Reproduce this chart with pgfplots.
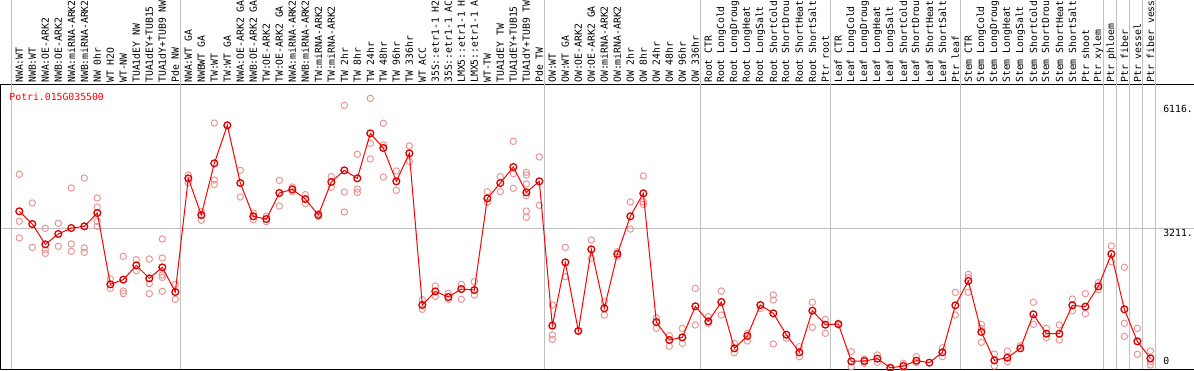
\documentclass[border=0pt]{standalone}
\usepackage{fontspec}
\setmainfont{DejaVu Sans Mono}
\usepackage{pgfplots}
\pgfplotsset{compat=1.18}
\usepackage{pgfplotstable}
\definecolor{sepc}{RGB}{192,192,192}
\definecolor{repc}{RGB}{232,150,150}
\definecolor{meanc}{RGB}{215,0,0}

\pgfplotstableread{
x y
1 3602
2 3310
3 2843
4 3081
5 3218
6 3257
7 3563
8 1923
9 2031
10 2360
11 2061
12 2314
13 1747
14 4360
15 3517
16 4705
17 5579
18 4253
19 3487
20 3425
21 4023
22 4107
23 3885
24 3517
25 4276
26 4544
27 4360
28 5395
29 5058
30 4291
31 4935
32 1448
33 1762
34 1632
35 1816
36 1793
37 3900
38 4253
39 4621
40 4038
41 4291
42 973
43 2429
44 851
45 2728
46 1372
47 2621
48 3487
49 4015
50 1057
51 644
52 705
53 1418
54 1073
55 1517
56 452
57 736
58 1448
59 1257
60 766
61 360
62 1318
63 996
64 1012
65 153
66 161
67 215
68 5
69 46
70 169
71 123
72 360
73 1441
74 2000
75 828
76 176
77 238
78 452
79 1234
80 789
81 789
82 1441
83 1410
84 1877
85 2621
86 1349
87 613
88 222
}\means

\pgfplotstableread{
x y
1 4452
1 3372
1 2989
2 3793
2 2774
3 3211
3 2713
3 2636
4 3326
4 2797
5 4138
5 2851
5 2682
6 4368
6 2759
6 2659
7 3908
7 3701
7 3372
7 3257
8 2046
8 1831
9 2567
9 1770
9 1709
10 2490
10 2238
11 2506
11 1939
11 1709
12 2966
12 2529
12 2138
12 2084
12 1762
13 1923
13 1579
14 4437
14 4261
15 3594
15 3395
16 5632
16 4322
16 4222
18 4544
18 3931
19 3563
19 3410
20 3487
20 3364
21 4314
21 3724
22 4161
22 4054
23 3985
23 3778
24 3548
24 3487
25 4399
25 4153
26 6038
26 4046
26 3586
27 4912
27 4115
27 4038
28 6199
28 5165
28 4805
29 5625
29 5127
29 4391
30 4529
30 4084
31 5104
31 4751
32 1571
32 1349
33 1885
33 1648
34 1717
34 1579
35 1923
35 1579
36 1985
36 1678
37 4054
37 3809
38 4399
38 4054
39 5211
39 4468
39 4130
40 4498
40 4437
40 4230
40 3962
40 3609
40 3464
41 4851
41 3740
42 1448
42 759
42 659
43 2774
43 2100
44 851
45 2943
45 2521
46 1525
46 1218
47 2674
47 2559
48 3816
48 3195
49 4414
49 3824
49 3763
50 1157
50 912
51 743
51 498
52 912
52 567
53 1831
53 989
54 1180
54 1027
55 1770
55 1218
56 567
56 352
57 797
57 621
58 1372
59 1678
59 1563
59 552
60 682
61 490
61 261
62 1510
62 935
63 1119
63 797
64 989
65 375
65 31
66 207
66 107
67 299
67 130
68 0
69 107
69 0
70 261
70 123
72 467
72 261
73 1740
73 1218
74 2153
74 2077
74 1740
75 1004
75 912
75 590
76 322
76 46
77 391
77 146
78 513
79 1510
79 1004
80 912
80 697
81 989
81 644
82 1586
82 1318
83 1709
83 1249
84 1962
84 1801
85 2805
85 2444
86 2314
86 1027
86 728
87 912
87 314
88 391
88 146
88 69
}\reps

\newcommand{\lblfont}{\fontsize{9.8}{10}\selectfont}

\begin{document}
\begin{tikzpicture}
\path[use as bounding box] (0,0) rectangle (1194pt,370pt);
\begin{axis}[
  at={(1pt,1pt)}, anchor=south west,
  scale only axis, width=1193pt, height=284pt,
  xmin=-0.408, xmax=91.36, ymin=-23, ymax=6506,
  clip mode=individual,
  axis line style={line width=1pt, black},
  xtick={1,...,88},
  xticklabels={NWA:WT,NWB:WT,NWA:OE-ARK2,NWB:OE-ARK2,NWA:miRNA-ARK2,NWB:miRNA-ARK2,NW 0hr,WT H2O,WT-NW,TUA1dEY NW,TUA1dEY+TUB15 NW,TUA1dY+TUB9 NW,Pde NW,
    NWA:WT GA,NWBWT GA,TW:WT,TW:WT GA,NWA:OE-ARK2 GA,NWB:OE-ARK2 GA,TW:OE-ARK2,TW:OE-ARK2 GA,NWA:miRNA-ARK2 GA,NWB:miRNA-ARK2 GA,TW:miRNA-ARK2,TW:miRNA-ARK2 GA,TW 2hr,TW 8hr,TW 24hr,TW 48hr,TW 96hr,TW 336hr,WT ACC,35S::etr1-1 H2O,35S::etr1-1 ACC,LMX5::etr1-1 H2O,LMX5::etr1-1 ACC,WT-TW,TUA1dEY TW,TUA1dEY+TUB15 TW,TUA1dY+TUB9 TW,Pde TW,
    OW:WT,OW:WT GA,OW:OE-ARK2,OW:OE-ARK2 GA,OW:miRNA-ARK2,OW:miRNA-ARK2 GA,OW 2hr,OW 8hr,OW 24hr,OW 48hr,OW 96hr,OW 336hr,
    Root CTR,Root LongCold,Root LongDrought,Root LongHeat,Root LongSalt,Root ShortCold,Root ShortDrought,Root ShortHeat,Root ShortSalt,Ptr root,
    Leaf CTR,Leaf LongCold,Leaf LongDrought,Leaf LongHeat,Leaf LongSalt,Leaf ShortCold,Leaf ShortDrought,Leaf ShortHeat,Leaf ShortSalt,Ptr leaf,
    Stem CTR,Stem LongCold,Stem LongDrought,Stem LongHeat,Stem LongSalt,Stem ShortCold,Stem ShortDrought,Stem ShortHeat,Stem ShortSalt,Ptr shoot,Ptr xylem,
    Ptr phloem,Ptr fiber,Ptr vessel,Ptr fiber vessel},
  xticklabel pos=upper,
  x tick label style={rotate=90, anchor=west, inner sep=0pt, font=\lblfont},
  xticklabel shift=2pt,
  major tick length=0pt,
  tick style={draw=none},
  ytick=\empty,
  extra y ticks={3211}, extra y tick labels={},
  extra y tick style={grid=major},
  major grid style={sepc, line width=1pt},
]
\pgfplotsinvokeforeach{0.385,13.385,41.385,53.385,63.385,73.385,84.385,85.385,86.385,87.385,88.385}{
  \draw[sepc, line width=1pt] (axis cs:#1,-23) -- ([yshift=100pt]axis cs:#1,6506);
}
\addplot[only marks, mark=o, mark size=3.2pt, mark options={draw=repc, line width=1pt}] table {\reps};
\addplot[red, line width=1pt, mark=o, mark size=3.4pt, mark options={draw=meanc, line width=1.3pt, solid}] table {\means};
\node[anchor=west, inner sep=0pt, text=red, font=\lblfont] at (axis cs:0.23,6230) {Potri.015G035500};
\node[anchor=base west, inner sep=0pt, font=\lblfont] at (axis cs:88.98,5885) {6116.};
\node[anchor=base west, inner sep=0pt, font=\lblfont] at (axis cs:88.98,3012) {3211.};
\node[anchor=base west, inner sep=0pt, font=\lblfont] at (axis cs:88.98,69) {0};
\end{axis}
\end{tikzpicture}
\end{document}
